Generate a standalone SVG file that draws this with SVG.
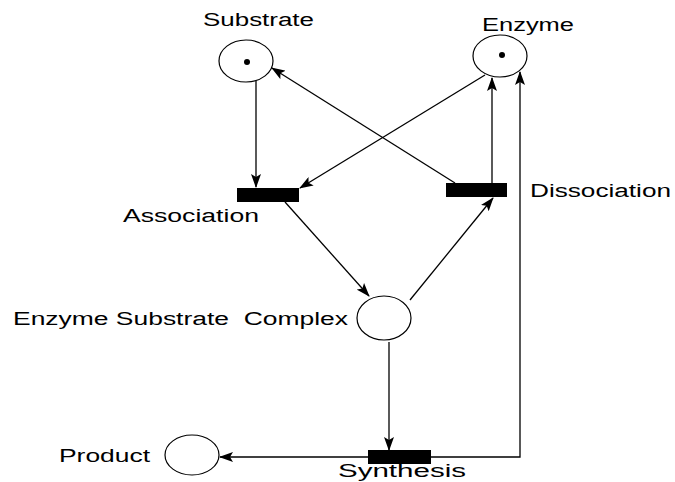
<svg xmlns="http://www.w3.org/2000/svg" width="675" height="482" viewBox="0 0 675 482">
<style>
.pl{fill:#fff;stroke:#000;stroke-width:1.2}
.tr{fill:#000}
.lb{font-family:"Liberation Sans",Arial,sans-serif;font-size:18px;fill:#000}
.e{fill:none;stroke:#000;stroke-width:1.3}
</style>
<defs>
<marker id="ah" markerWidth="14" markerHeight="10" refX="13" refY="5" orient="auto" markerUnits="userSpaceOnUse">
<path d="M0,0 L14,5 L0,10 L3,5 Z" fill="#000"/>
</marker>
</defs>
<rect width="675" height="482" fill="#fff"/>
<g id="edges">
<line class="e" x1="256" y1="81" x2="256" y2="187" marker-end="url(#ah)"/>
<line class="e" x1="485" y1="75" x2="300" y2="188" marker-end="url(#ah)"/>
<line class="e" x1="285" y1="202" x2="369" y2="296" marker-end="url(#ah)"/>
<line class="e" x1="410" y1="300" x2="493" y2="198" marker-end="url(#ah)"/>
<line class="e" x1="492" y1="183" x2="492" y2="78" marker-end="url(#ah)"/>
<line class="e" x1="455" y1="183" x2="272" y2="68" marker-end="url(#ah)"/>
<line class="e" x1="389" y1="342" x2="389" y2="450" marker-end="url(#ah)"/>
<line class="e" x1="368" y1="457" x2="220" y2="457" marker-end="url(#ah)"/>
<polyline class="e" points="431,457 520,457 520,72" marker-end="url(#ah)"/>
</g>
<g id="substrate">
<ellipse class="pl" cx="246" cy="61" rx="27" ry="21"/>
<circle cx="247" cy="62" r="3" fill="#000"/>
<text class="lb" x="203" y="26" textLength="111" lengthAdjust="spacingAndGlyphs">Substrate</text>
</g>
<g id="enzyme">
<ellipse class="pl" cx="500" cy="56" rx="27" ry="21"/>
<circle cx="502" cy="55" r="3" fill="#000"/>
<text class="lb" x="482" y="31" textLength="92" lengthAdjust="spacingAndGlyphs">Enzyme</text>
</g>
<g id="association">
<rect class="tr" x="237" y="188" width="62" height="14"/>
<text class="lb" x="123" y="222" textLength="136" lengthAdjust="spacingAndGlyphs">Association</text>
</g>
<g id="dissociation">
<rect class="tr" x="446" y="183" width="61" height="14"/>
<text class="lb" x="530" y="197" textLength="141" lengthAdjust="spacingAndGlyphs">Dissociation</text>
</g>
<g id="complex">
<ellipse class="pl" cx="384" cy="318" rx="27" ry="22"/>
<text class="lb" x="13" y="325" textLength="335" lengthAdjust="spacingAndGlyphs" xml:space="preserve">Enzyme Substrate  Complex</text>
</g>
<g id="product">
<ellipse class="pl" cx="192" cy="455" rx="27" ry="20"/>
<text class="lb" x="59" y="462" textLength="91" lengthAdjust="spacingAndGlyphs">Product</text>
</g>
<g id="synthesis">
<rect class="tr" x="368" y="450" width="63" height="14"/>
<text class="lb" x="338" y="477" textLength="128" lengthAdjust="spacingAndGlyphs">Synthesis</text>
</g>
</svg>
